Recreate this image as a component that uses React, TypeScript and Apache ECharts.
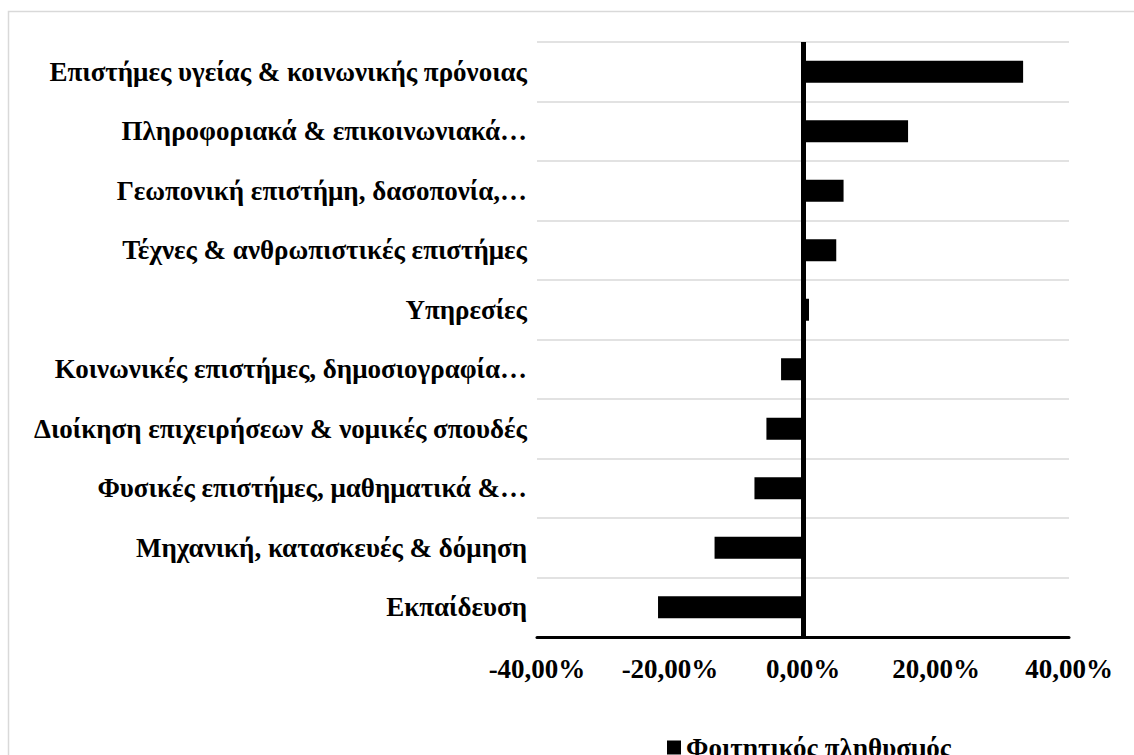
import React, { useEffect, useRef } from "react";
import * as echarts from "echarts";

const categories = [
  "Επιστήμες υγείας & κοινωνικής πρόνοιας",
  "Πληροφοριακά & επικοινωνιακά…",
  "Γεωπονική επιστήμη, δασοπονία,…",
  "Τέχνες & ανθρωπιστικές επιστήμες",
  "Υπηρεσίες",
  "Κοινωνικές επιστήμες, δημοσιογραφία…",
  "Διοίκηση επιχειρήσεων & νομικές σπουδές",
  "Φυσικές επιστήμες, μαθηματικά &…",
  "Μηχανική, κατασκευές & δόμηση",
  "Εκπαίδευση",
];
const values = [33.1, 15.8, 6.1, 5.0, 0.9, -3.3, -5.5, -7.3, -13.3, -21.8];
const seriesName = "Φοιτητικός πληθυσμός";
const xTicks = [-40, -20, 0, 20, 40];

const FONT = "'Liberation Serif', 'Times New Roman', serif";

export default function App() {
  const ref = useRef<HTMLDivElement>(null);
  useEffect(() => {
    if (!ref.current) return;
    const chart = echarts.init(ref.current, null, { renderer: "svg" });
    chart.setOption({
      animation: false,
      backgroundColor: "#ffffff",
      graphic: [
        {
          type: "rect",
          shape: { x: 8.5, y: 11.5, width: 1140, height: 760 },
          style: { fill: "none", stroke: "#d9d9d9", lineWidth: 1.5 },
          silent: true,
        },
      ],
      grid: { left: 537, right: 65, top: 42, bottom: 118, containLabel: false },
      legend: {
        show: true,
        data: [seriesName],
        left: 662,
        top: 729,
        icon: "rect",
        itemWidth: 14,
        itemHeight: 14,
        itemGap: 5,
        textStyle: { fontFamily: FONT, fontWeight: "bold", fontSize: 27, color: "#000" },
      },
      xAxis: {
        type: "value",
        min: xTicks[0],
        max: xTicks[xTicks.length - 1],
        interval: 20,
        axisLine: { show: true, onZero: false, lineStyle: { color: "#000", width: 3 } },
        axisTick: { show: false },
        splitLine: { show: false },
        axisLabel: {
          margin: 18,
          fontFamily: FONT,
          fontWeight: "bold",
          fontSize: 27,
          color: "#000",
          formatter: (v: number) => v.toFixed(2).replace(".", ",") + "%",
        },
      },
      yAxis: {
        type: "category",
        data: categories,
        inverse: true,
        axisLine: { show: false, onZero: false },
        axisTick: { show: false },
        splitLine: { show: true, interval: 0, lineStyle: { color: "#d9d9d9", width: 1.5 } },
        axisLabel: {
          margin: 10,
          interval: 0,
          fontFamily: FONT,
          fontWeight: "bold",
          fontSize: 27,
          color: "#000",
        },
      },
      series: [
        {
          name: seriesName,
          type: "bar",
          data: values,
          barWidth: 22,
          itemStyle: { color: "#000" },
          markLine: {
            silent: true,
            symbol: "none",
            label: { show: false },
            lineStyle: { color: "#000", width: 5, type: "solid" },
            data: [{ xAxis: 0 }],
          },
        },
      ],
    });
    return () => chart.dispose();
  }, []);
  return (
    <div
      ref={ref}
      style={{ position: "absolute", left: 0, top: 0, width: 1134, height: 755 }}
    />
  );
}
